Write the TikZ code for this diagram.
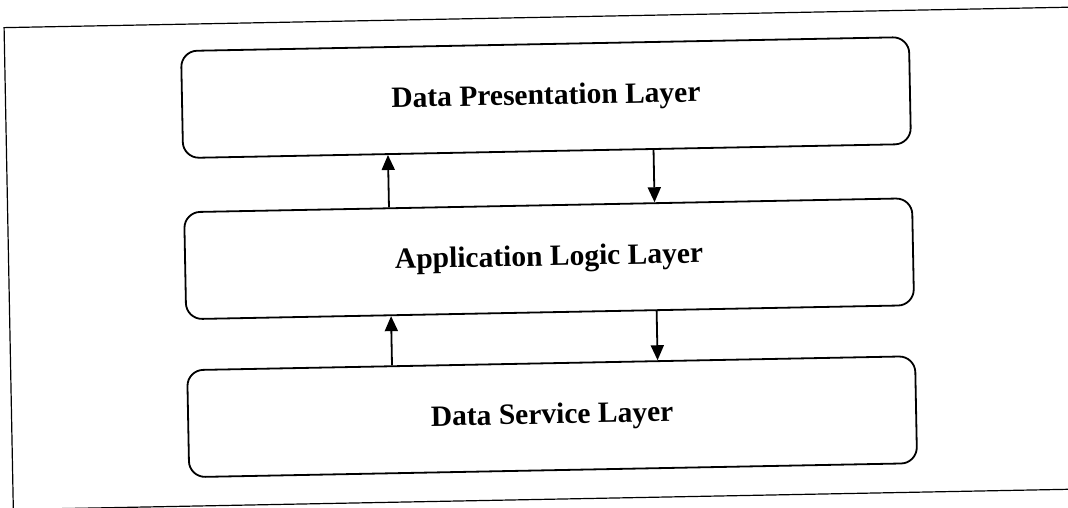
\documentclass[tikz,border=0pt]{standalone}
\usepackage{fontspec}
\setmainfont{Liberation Serif}
\usetikzlibrary{arrows.meta,calc}
\tikzset{
  layerbox/.style={draw, line width=1.8pt, rounded corners=16pt,
    minimum width=728pt, minimum height=107pt, inner sep=0pt,
    font=\fontsize{29.5}{34}\selectfont\bfseries},
  framebox/.style={line width=1.2pt},
  arr/.style={line width=1.8pt, -{Triangle[length=15pt,width=13pt]}}
}
\begin{document}
\begin{tikzpicture}[x=1pt,y=-1pt]
\useasboundingbox (0,0) rectangle (1068,507);
\clip (0,0) rectangle (1068,507);
\begin{scope}[rotate around={1.1:(534,253.5)}, transform shape]
  \draw[framebox] (1130,17.5) -- (8.5,17.5) -- (8.5,499.5) -- (1130,499.5);
  \node[layerbox] (pres) at (549,97.8) {Data Presentation Layer};
  \node[layerbox] (app) at (549,259) {Application Logic Layer};
  \node[layerbox] (serv) at (549,417) {Data Service Layer};
  \draw[arr] ($(app.north west)!0.282!(app.north east)$) -- ($(pres.south west)!0.282!(pres.south east)$);
  \draw[arr] ($(pres.south west)!0.646!(pres.south east)$) -- ($(app.north west)!0.646!(app.north east)$);
  \draw[arr] ($(serv.north west)!0.282!(serv.north east)$) -- ($(app.south west)!0.282!(app.south east)$);
  \draw[arr] ($(app.south west)!0.646!(app.south east)$) -- ($(serv.north west)!0.646!(serv.north east)$);
\end{scope}
\end{tikzpicture}
\end{document}
